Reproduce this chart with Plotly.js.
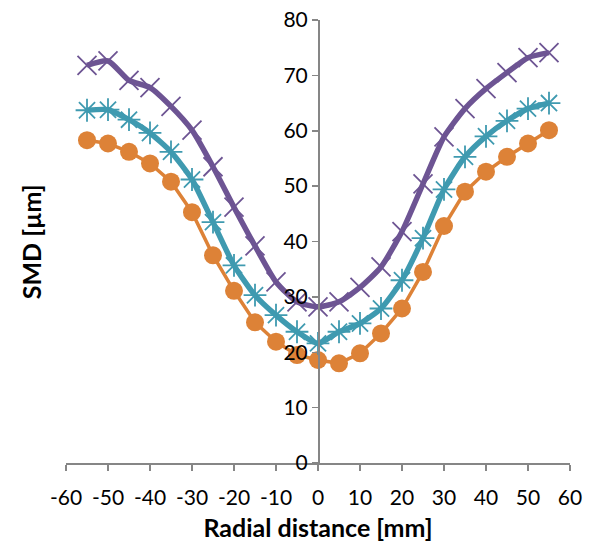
<!DOCTYPE html>
<html>
<head>
<meta charset="utf-8">
<script src="https://cdn.plot.ly/plotly-3.0.1.min.js"></script>
<style>html,body{margin:0;padding:0;background:#fff;}#chart{width:591px;height:547px;}</style>
</head>
<body>
<div id="chart"></div>
<script>
var radial = [-55,-50,-45,-40,-35,-30,-25,-20,-15,-10,-5,0,5,10,15,20,25,30,35,40,45,50,55];
var seriesPurple = [71.8,72.6,69.1,67.8,64.4,60.1,53.5,46.2,39.2,32.7,29.1,28.2,29.1,31.7,35.4,41.8,50.4,58.9,64.0,67.6,70.5,73.2,74.1];
var seriesTeal = [63.7,63.8,62.0,59.6,56.2,51.2,43.5,35.7,30.3,26.7,23.7,21.6,23.7,25.2,27.9,33.0,40.6,49.4,55.3,59.0,61.8,64.0,65.0];
var seriesOrange = [58.3,57.7,56.2,54.1,50.8,45.3,37.5,31.1,25.4,21.9,19.5,18.6,18.0,19.8,23.4,27.9,34.5,42.8,49.0,52.6,55.3,57.7,60.1];
var xTicks = [-60,-50,-40,-30,-20,-10,0,10,20,30,40,50,60];
var yTicks = [0,10,20,30,40,50,60,70,80];

var FONT = 'Lato, "Open Sans", sans-serif';
var traces = [
  {x: radial, y: seriesOrange, mode: 'lines+markers', type: 'scatter',
   line: {color: '#DD8237', width: 3.5},
   marker: {symbol: 'circle', size: 18, color: '#DD8237'}},
  {x: radial, y: seriesTeal, mode: 'lines+markers', type: 'scatter',
   line: {color: '#3F9AB0', width: 5.5, shape: 'spline', smoothing: 0.6},
   marker: {symbol: 'asterisk-open', size: 19, color: '#3F9AB0', line: {color: '#3F9AB0', width: 1.8}}},
  {x: radial, y: seriesPurple, mode: 'lines+markers', type: 'scatter',
   line: {color: '#6D5493', width: 5.5, shape: 'spline', smoothing: 0.6},
   marker: {symbol: 'x-thin-open', size: 19, color: '#6D5493', line: {color: '#6D5493', width: 1.8}}}
];
var layout = {
  width: 591, height: 547,
  margin: {l: 66, r: 21, t: 20, b: 84},
  paper_bgcolor: '#fff', plot_bgcolor: '#fff',
  showlegend: false,
  font: {family: FONT, size: 20, color: '#000'},
  xaxis: {
    range: [-60, 60], tickvals: xTicks, ticktext: xTicks.map(String),
    showgrid: false, zeroline: false, showline: true, linecolor: '#868686', linewidth: 1.5,
    ticks: 'outside', ticklen: 6, tickcolor: '#868686', tickwidth: 1.5,
    ticklabelstandoff: 9,
    tickfont: {family: FONT, size: 21, color: '#000'},
    title: {text: 'Radial distance [mm]', font: {family: FONT, size: 25, color: '#000', weight: 'bold'}, standoff: 12}
  },
  yaxis: {
    range: [0, 80], tickvals: yTicks, ticktext: yTicks.map(String),
    anchor: 'free', position: 0.5, side: 'left',
    showgrid: false, zeroline: false, showline: true, linecolor: '#868686', linewidth: 1.5,
    ticks: 'outside', ticklen: 6, tickcolor: '#868686', tickwidth: 1.5,
    tickfont: {family: FONT, size: 21, color: '#000'}
  },
  annotations: [{
    text: 'SMD [µm]', xref: 'paper', yref: 'paper', x: -0.07, y: 0.5,
    xanchor: 'center', yanchor: 'middle', textangle: -90, showarrow: false,
    font: {family: FONT, size: 25, color: '#000', weight: 'bold'}
  }]
};
Plotly.newPlot('chart', traces, layout, {displayModeBar: false, staticPlot: true});
</script>
</body>
</html>
